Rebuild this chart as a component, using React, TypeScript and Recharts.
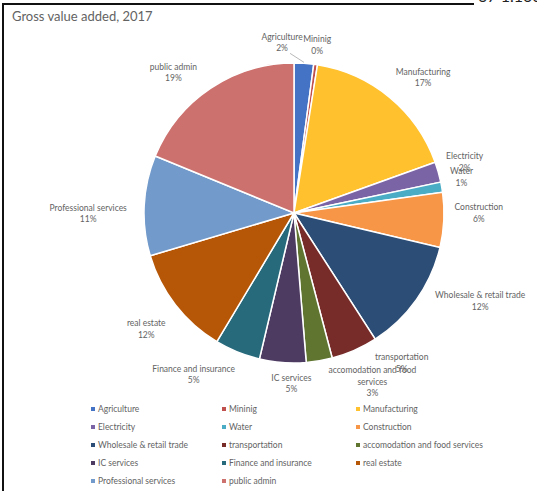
import { PieChart, Pie, Cell, Legend } from "recharts";

const sectors = [
  "Agriculture",
  "Mininig",
  "Manufacturing",
  "Electricity",
  "Water",
  "Construction",
  "Wholesale & retail trade",
  "transportation",
  "accomodation and food services",
  "IC services",
  "Finance and insurance",
  "real estate",
  "Professional services",
  "public admin",
];

const shares = [2.1, 0.4, 17.0, 2.2, 1.1, 5.9, 12.2, 5.0, 2.8, 5.0, 4.9, 11.8, 10.8, 18.8];

const colors = [
  "#4472C4",
  "#C0504D",
  "#FFC12E",
  "#7B64A6",
  "#4BACC6",
  "#F79646",
  "#2C4D75",
  "#772C2A",
  "#5F7530",
  "#4D3B62",
  "#276A7C",
  "#B65708",
  "#729ACA",
  "#CC716E",
];

// label lines as Excel wrapped them
const labelLines: string[][] = [
  ["Agriculture"],
  ["Mininig"],
  ["Manufacturing"],
  ["Electricity"],
  ["Water"],
  ["Construction"],
  ["Wholesale & retail trade"],
  ["transportation"],
  ["accomodation and food", "services"],
  ["IC services"],
  ["Finance and insurance"],
  ["real estate"],
  ["Professional services"],
  ["public admin"],
];

// nudges from the default label spot (outerRadius + 18)
const labelNudge: [number, number][] = [
  [-23, -3],
  [-1, -2],
  [22, -6],
  [9, -5],
  [2, -7],
  [17, -8],
  [49, -9],
  [40, -4],
  [50, 3],
  [10, 3],
  [-37, 6],
  [-15, 13],
  [-38, 9],
  [-27, -1],
];

const data = sectors.map((name, i) => ({ name, value: shares[i] }));

const FONT = "Lato, 'Open Sans', sans-serif";
const GREY = "#636363";
const RAD = Math.PI / 180;

function renderLabel(props: any) {
  const { cx, cy, outerRadius, midAngle, percent, index } = props;
  const r = outerRadius + 18;
  const x = cx + r * Math.cos(-midAngle * RAD) + labelNudge[index][0];
  const y = cy + r * Math.sin(-midAngle * RAD) + labelNudge[index][1];
  const lines = [...labelLines[index], `${Math.round(percent * 100)}%`];
  const lh = 11.5;
  const top = y - ((lines.length - 1) * lh) / 2;
  return (
    <g key={`lbl-${index}`}>
      {index === 0 && (
        <line
          x1={x + 8}
          y1={y + 11}
          x2={cx + (outerRadius + 1) * Math.cos(-midAngle * RAD)}
          y2={cy + (outerRadius + 1) * Math.sin(-midAngle * RAD)}
          stroke="#A6A6A6"
          strokeWidth={0.8}
        />
      )}
      <text textAnchor="middle" fill={GREY} fontSize={8.5} fontFamily={FONT}>
        {lines.map((t, k) => (
          <tspan key={k} x={x} y={top + k * lh} dominantBaseline="central">
            {t}
          </tspan>
        ))}
      </text>
    </g>
  );
}

function renderLegend() {
  const colX = [91, 222, 356];
  return (
    <div style={{ position: "relative", width: 537, height: 95 }}>
      {sectors.map((name, i) => (
        <div
          key={name}
          style={{
            position: "absolute",
            left: colX[i % 3],
            top: Math.floor(i / 3) * 18,
            height: 12,
            display: "flex",
            alignItems: "center",
            fontFamily: FONT,
            fontSize: 8.5,
            color: GREY,
            whiteSpace: "nowrap",
          }}
        >
          <span
            style={{ width: 4, height: 4, background: colors[i], marginRight: 3, display: "inline-block" }}
          />
          {name}
        </div>
      ))}
    </div>
  );
}

export default function App() {
  return (
    <div
      style={{
        position: "absolute",
        left: 0,
        top: 0,
        width: 537,
        height: 491,
        background: "#fff",
        overflow: "hidden",
      }}
    >
      <div style={{ position: "absolute", left: 2, top: 3, width: 472, height: 2, background: "#111" }} />
      <div style={{ position: "absolute", left: 2, top: 3, width: 2, height: 488, background: "#111" }} />
      <div
        style={{
          position: "absolute",
          left: 478,
          top: -14,
          fontFamily: FONT,
          fontSize: 16,
          color: "#222",
          whiteSpace: "nowrap",
        }}
      >
        67 1.100
      </div>
      <div
        style={{
          position: "absolute",
          left: 12,
          top: 8,
          fontFamily: FONT,
          fontSize: 13,
          color: GREY,
        }}
      >
        Gross value added, 2017
      </div>
      <PieChart
        width={537}
        height={491}
        margin={{ top: 0, right: 0, bottom: 0, left: 0 }}
        style={{ position: "absolute", left: 0, top: 0 }}
      >
        <Pie
          data={data}
          dataKey="value"
          nameKey="name"
          cx={294}
          cy={213}
          outerRadius={150}
          startAngle={90}
          endAngle={-270}
          stroke="#fff"
          strokeWidth={1.5}
          label={renderLabel}
          labelLine={false}
          isAnimationActive={false}
        >
          {data.map((d, i) => (
            <Cell key={d.name} fill={colors[i]} />
          ))}
        </Pie>
        <Legend
          content={renderLegend}
          wrapperStyle={{ position: "absolute", left: 0, top: 403, width: 537 }}
        />
      </PieChart>
    </div>
  );
}
